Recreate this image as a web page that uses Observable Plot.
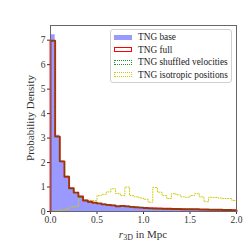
<!DOCTYPE html>
<html><head><meta charset="utf-8">
<script src="https://cdn.jsdelivr.net/npm/d3@7"></script>
<script src="https://cdn.jsdelivr.net/npm/@observablehq/plot@0.6"></script>
<style>
body{margin:0;background:#fff;}
#wrap{position:relative;width:249px;height:249px;font-family:"Liberation Serif","DejaVu Serif",serif;}
#legend{position:absolute;left:110px;top:29px;width:122px;height:54px;border:1px solid #d0d0d0;border-radius:3px;background:rgba(255,255,255,0.85);box-sizing:border-box;}
.row{position:absolute;left:0;height:12px;font-size:9.3px;line-height:12px;color:#222;white-space:nowrap;}
.sw{position:absolute;left:3px;top:3.5px;width:18px;height:5px;box-sizing:border-box;}
.lt{position:absolute;left:27px;top:0;}
</style></head>
<body><div id="wrap"></div>
<script>
const binStarts = [0,0.05,0.1,0.15,0.2,0.25,0.3,0.35,0.4,0.45,0.5,0.55,0.6,0.65,0.7,0.75,0.8,0.85,0.9,0.95,1.0,1.05,1.1,1.15,1.2,1.25,1.3,1.35,1.4,1.45,1.5,1.55,1.6,1.65,1.7,1.75,1.8,1.85,1.9,1.95];
const binWidth = 0.05;
const tngBase = [7.22,3.12,2.06,1.43,0.96,0.78,0.62,0.46,0.40,0.37,0.33,0.30,0.27,0.26,0.22,0.24,0.22,0.20,0.18,0.17,0.14,0.13,0.13,0.12,0.12,0.11,0.11,0.10,0.10,0.09,0.10,0.09,0.08,0.08,0.08,0.07,0.07,0.07,0.06,0.06];
const tngFull = [6.98,3.06,2.05,1.42,0.95,0.77,0.61,0.45,0.40,0.36,0.33,0.29,0.27,0.25,0.21,0.23,0.21,0.19,0.17,0.16,0.14,0.13,0.12,0.12,0.11,0.11,0.10,0.10,0.09,0.09,0.09,0.09,0.08,0.08,0.07,0.07,0.07,0.06,0.06,0.05];
const tngShuffled = [6.96,3.07,2.04,1.44,0.94,0.78,0.60,0.46,0.39,0.37,0.32,0.30,0.26,0.25,0.22,0.22,0.21,0.19,0.18,0.16,0.14,0.12,0.13,0.11,0.11,0.10,0.11,0.09,0.10,0.09,0.08,0.09,0.08,0.07,0.08,0.07,0.06,0.07,0.06,0.05];
const tngIsotropic = [0.0,0.03,0.06,0.10,0.18,0.20,0.58,0.45,0.45,0.45,0.65,0.70,0.80,0.93,0.73,0.65,1.00,0.65,0.60,0.55,0.50,0.38,0.98,0.79,0.65,0.53,0.73,0.68,0.60,0.58,0.65,0.73,0.60,0.40,0.58,0.57,0.55,0.53,0.53,0.45];
const xTicks = [0,0.5,1,1.5,2];
const yTicks = [0,1,2,3,4,5,6,7];

function stepPoints(vals){
  const pts=[{x:binStarts[0],y:0}];
  vals.forEach((v,i)=>{pts.push({x:binStarts[i],y:v});pts.push({x:binStarts[i]+binWidth,y:v});});
  pts.push({x:binStarts[binStarts.length-1]+binWidth,y:0});
  return pts;
}
const serif = '"Liberation Serif","DejaVu Serif",serif';
const plot = Plot.plot({
  width:249,height:249,
  marginLeft:50,marginRight:13,marginTop:25,marginBottom:38,
  style:{fontFamily:serif,fontSize:"9.5px",color:"#333",background:"white"},
  x:{domain:[0,2],ticks:xTicks,tickFormat:d3.format(".1f"),label:null,tickSize:3,tickPadding:2},
  y:{domain:[0,7.6],ticks:yTicks,tickFormat:d3.format("d"),label:null,tickSize:3,tickPadding:2},
  marks:[
    Plot.area(stepPoints(tngBase),{x1:"x",y1:0,y2:"y",fill:"#9999ff"}),
    Plot.line(stepPoints(tngIsotropic),{x:"x",y:"y",stroke:"#cccc10",strokeWidth:1,strokeDasharray:"1,1.6"}),
    Plot.line(stepPoints(tngFull),{x:"x",y:"y",stroke:"red",strokeWidth:1.9,strokeOpacity:0.95}),
    Plot.line(stepPoints(tngShuffled),{x:"x",y:"y",stroke:"green",strokeWidth:1,strokeDasharray:"1,1.6"}),
    Plot.frame({stroke:"#666",strokeWidth:1})
  ]
});
const svg = d3.select(plot);
const xs = plot.scale("x"), ys = plot.scale("y");
const xl = svg.append("text").attr("x",(xs.apply(0)+xs.apply(2))/2).attr("y",238)
  .attr("text-anchor","middle").attr("font-family",serif).attr("font-size","11px").attr("fill","#333");
xl.append("tspan").attr("font-style","italic").text("r");
xl.append("tspan").attr("font-size","8px").attr("dy","2").text("3D");
xl.append("tspan").attr("dy","-2").text(" in Mpc");
svg.append("text").attr("transform",`translate(34,${(ys.apply(0)+ys.apply(7.6))/2}) rotate(-90)`)
  .attr("text-anchor","middle").attr("font-family",serif).attr("font-size","11px").attr("fill","#333")
  .text("Probability Density");
const wrap = document.getElementById("wrap");
wrap.appendChild(plot);
const legendItems = [
  {label:"TNG base",style:"background:#9999ff;"},
  {label:"TNG full",style:"border:1.6px solid red;"},
  {label:"TNG shuffled velocities",style:"border:1px dotted #2e8b2e;"},
  {label:"TNG isotropic positions",style:"border:1px dotted #cccc10;"}
];
const lg = document.createElement("div"); lg.id="legend";
legendItems.forEach((it,i)=>{
  const r=document.createElement("div"); r.className="row"; r.style.top=(1+i*12.6)+"px";
  r.innerHTML=`<div class="sw" style="${it.style}"></div><div class="lt">${it.label}</div>`;
  lg.appendChild(r);
});
wrap.appendChild(lg);
</script></body></html>
